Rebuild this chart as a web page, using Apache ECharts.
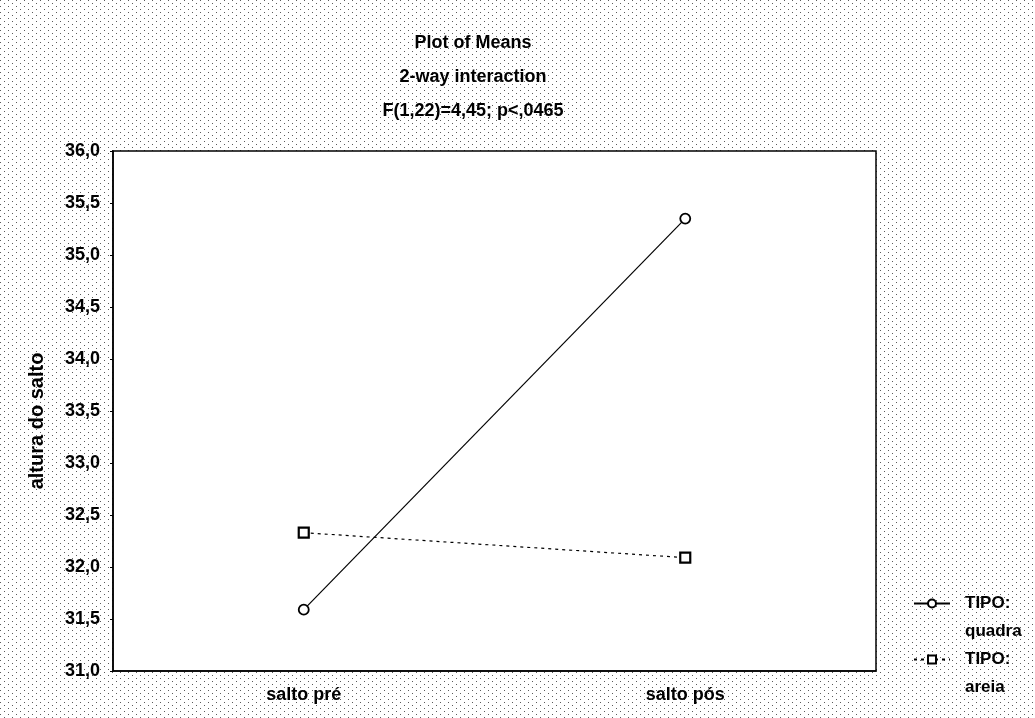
<!DOCTYPE html>
<html>
<head>
<meta charset="utf-8">
<script src="https://cdn.jsdelivr.net/npm/echarts@6/dist/echarts.min.js"></script>
<style>
  html, body { margin: 0; padding: 0; background: #fff; }
  #chart { width: 1035px; height: 718px; }
</style>
</head>
<body>
<div id="chart"></div>
<script>
// categorias e médias
var categorias = ['salto pré', 'salto pós'];
var quadra = [31.59, 35.35];
var areia = [32.33, 32.09];
var yMin = 31.0, yMax = 36.0, yStep = 0.5;

// fundo pontilhado (imita o reticulado da imagem)
function makeDots() {
  var c = document.createElement('canvas');
  c.width = 8; c.height = 6;
  var ctx = c.getContext('2d');
  ctx.fillStyle = '#ffffff';
  ctx.fillRect(0, 0, 8, 6);
  ctx.fillStyle = '#5a5a5a';
  ctx.fillRect(0, 0, 1, 1);
  ctx.fillRect(4, 3, 1, 1);
  return c;
}

var fonte = '"Liberation Sans", Arial, sans-serif';

// legenda: linha vazia em cima para o ícone ficar na altura de "TIPO:"
function legenda(top, nome) {
  return {
    data: [nome],
    orient: 'vertical',
    left: 908,
    top: top,
    itemWidth: 36,
    itemHeight: 10,
    formatter: function (n) {
      return '{t| }\n{t|TIPO:}\n{t|' + n + '}';
    },
    textStyle: {
      rich: {
        t: {
          fontFamily: fonte,
          fontWeight: 'bold',
          fontSize: 17,
          lineHeight: 28,
          color: '#000',
          padding: [0, 0, 0, 10]
        }
      }
    }
  };
}

var chart = echarts.init(document.getElementById('chart'));
var option = {
  animation: false,
  backgroundColor: { image: makeDots(), repeat: 'repeat' },
  title: {
    text: 'Plot of Means\n2-way interaction\nF(1,22)=4,45; p<,0465',
    left: 468,
    top: 21,
    textAlign: 'center',
    textStyle: {
      fontFamily: fonte,
      fontWeight: 'bold',
      fontSize: 18,
      lineHeight: 34,
      color: '#000'
    }
  },
  grid: {
    left: 113, right: 159, top: 151, bottom: 47,
    show: true,
    backgroundColor: '#fff',
    borderColor: '#000',
    borderWidth: 1.5
  },
  legend: [legenda(562, 'quadra'), legenda(618, 'areia')],
  xAxis: {
    type: 'category',
    data: categorias,
    boundaryGap: true,
    axisLine: { lineStyle: { color: '#000', width: 1.5 } },
    axisTick: { alignWithLabel: true, length: 3, lineStyle: { color: '#000' } },
    axisLabel: {
      fontFamily: fonte,
      fontWeight: 'bold',
      fontSize: 18,
      color: '#000',
      margin: 15
    },
    splitLine: { show: false }
  },
  yAxis: {
    type: 'value',
    min: yMin,
    max: yMax,
    interval: yStep,
    name: 'altura do salto',
    nameLocation: 'middle',
    nameGap: 66,
    nameRotate: 90,
    nameTextStyle: {
      fontFamily: fonte,
      fontWeight: 'bold',
      fontSize: 20,
      color: '#000',
      padding: [0, 0, 0, -20]
    },
    axisLine: { show: true, lineStyle: { color: '#000', width: 1.5 } },
    axisTick: { show: true, length: 3, lineStyle: { color: '#000' } },
    axisLabel: {
      fontFamily: fonte,
      fontWeight: 'bold',
      fontSize: 18,
      color: '#000',
      margin: 13,
      formatter: function (v) { return v.toFixed(1).replace('.', ','); }
    },
    splitLine: { show: false }
  },
  series: [
    {
      name: 'quadra',
      type: 'line',
      data: quadra,
      symbol: 'circle',
      symbolSize: 10,
      lineStyle: { color: '#000', width: 1.2 },
      itemStyle: { color: '#fff', borderColor: '#000', borderWidth: 1.8 }
    },
    {
      name: 'areia',
      type: 'line',
      data: areia,
      symbol: 'rect',
      symbolSize: 10,
      lineStyle: { color: '#000', width: 1.2, type: [3, 4] },
      itemStyle: { color: '#fff', borderColor: '#000', borderWidth: 2.2 }
    }
  ]
};
chart.setOption(option);
</script>
</body>
</html>
